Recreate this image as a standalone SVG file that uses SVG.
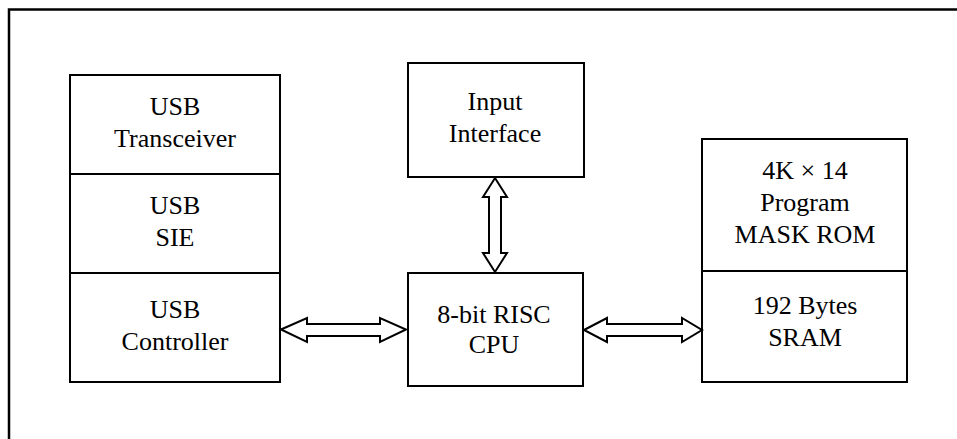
<svg xmlns="http://www.w3.org/2000/svg" width="957" height="439" viewBox="0 0 957 439">
<style>
.box{fill:#fff;stroke:#000;stroke-width:2}
.div{stroke:#000;stroke-width:2}
.arr{fill:#fff;stroke:#000;stroke-width:2;stroke-linejoin:miter}
.t{font-family:'Liberation Serif',serif;font-size:26px;fill:#000;text-anchor:middle}
</style>
<rect x="0" y="0" width="957" height="439" fill="#fff"/>
<rect x="9" y="9.5" width="970" height="450" fill="none" stroke="#000" stroke-width="2.5"/>
<g id="usb">
<rect class="box" x="70" y="75" width="210" height="307"/>
<line class="div" x1="70" y1="174" x2="280" y2="174"/>
<line class="div" x1="70" y1="273" x2="280" y2="273"/>
<text class="t" x="175" y="115">USB</text>
<text class="t" x="175" y="147">Transceiver</text>
<text class="t" x="175" y="214">USB</text>
<text class="t" x="175" y="246">SIE</text>
<text class="t" x="175" y="318">USB</text>
<text class="t" x="175" y="350">Controller</text>
</g>
<g id="input">
<rect class="box" x="408" y="63" width="176" height="114"/>
<text class="t" x="495" y="110">Input</text>
<text class="t" x="495" y="142">Interface</text>
</g>
<g id="cpu">
<rect class="box" x="408" y="273" width="175" height="113"/>
<text class="t" x="494" y="323">8-bit RISC</text>
<text class="t" x="494" y="353">CPU</text>
</g>
<g id="memory">
<rect class="box" x="702" y="139" width="205" height="243"/>
<line class="div" x1="702" y1="271" x2="907" y2="271"/>
<text class="t" x="805" y="179">4K × 14</text>
<text class="t" x="805" y="211">Program</text>
<text class="t" x="805" y="243">MASK ROM</text>
<text class="t" x="805" y="314">192 Bytes</text>
<text class="t" x="805" y="346">SRAM</text>
</g>
<g id="connectors">
<polygon class="arr" points="281,329.5 307,318 307,324 380,324 380,318 406,329.5 380,342 380,336 307,336 307,342"/>
<polygon class="arr" points="584,330 607,318 607,324 682,324 682,318 702,330 682,342 682,336 607,336 607,342"/>
<polygon class="arr" points="495,178 507,197 501,197 501,253 507,253 495,272 483,253 489,253 489,197 483,197"/>
</g>
</svg>
